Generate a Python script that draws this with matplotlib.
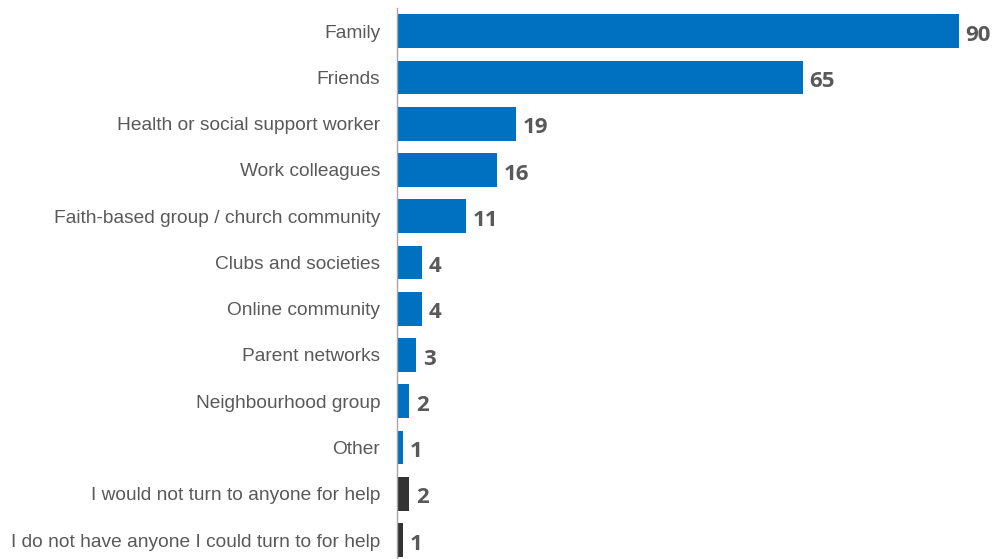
#!/usr/bin/env python3
"""Horizontal bar chart: who people would turn to for help."""

import matplotlib
matplotlib.use("Agg")
import matplotlib.pyplot as plt

categories = [
    "Family",
    "Friends",
    "Health or social support worker",
    "Work colleagues",
    "Faith-based group / church community",
    "Clubs and societies",
    "Online community",
    "Parent networks",
    "Neighbourhood group",
    "Other",
    "I would not turn to anyone for help",
    "I do not have anyone I could turn to for help",
]
values = [90, 65, 19, 16, 11, 4, 4, 3, 2, 1, 2, 1]
is_none = [False] * 10 + [True, True]

BLUE = "#0070C0"
DARK = "#333333"
GREY = "#595959"

fig = plt.figure(figsize=(9.95, 5.59), dpi=100)
ax = fig.add_axes([397 / 995, 0.0, (985 - 397) / 995, 1 - 8 / 559])

y = list(range(len(categories)))
colors = [DARK if n else BLUE for n in is_none]
bars = ax.barh(y, values, height=0.73, color=colors)

for bar, v in zip(bars, values):
    ax.annotate(str(v),
                xy=(bar.get_width(), bar.get_y() + bar.get_height() / 2),
                xytext=(5, -3), textcoords="offset points",
                ha="left", va="center", fontsize=16, fontweight="bold",
                color=GREY, family="Open Sans")

ax.set_yticks(y)
ax.set_yticklabels(categories, fontsize=13.8, color=GREY, family="Liberation Sans")
ax.tick_params(axis="y", length=0, pad=12)
ax.set_xticks([])
ax.set_xlim(0, 94.2)
ax.set_ylim(11.41, -0.5)

for s in ["top", "right", "bottom"]:
    ax.spines[s].set_visible(False)
ax.spines["left"].set_color("#A6A6A6")
ax.spines["left"].set_linewidth(1)

fig.savefig("out.png", dpi=100)
plt.close(fig)
